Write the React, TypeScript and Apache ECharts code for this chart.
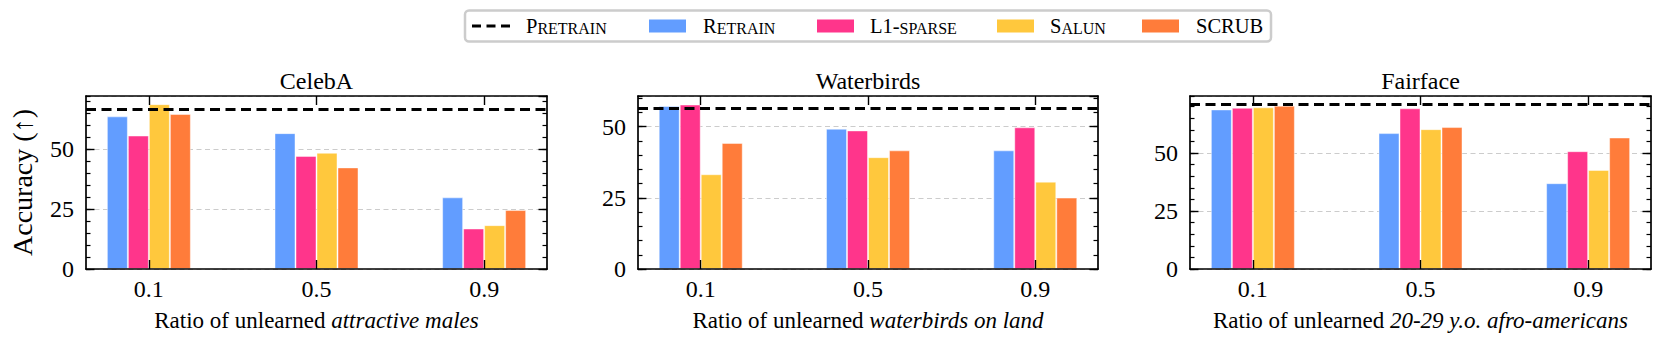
import React, { useEffect, useRef } from 'react';
import * as echarts from 'echarts';

const panelTitles = ['CelebA', 'Waterbirds', 'Fairface'];
const ratioLabels = ['0.1', '0.5', '0.9'];
const xNamePrefix = 'Ratio of unlearned ';
const xNameItalic = ['attractive males', 'waterbirds on land', '20-29 y.o. afro-americans'];
const methodNames = ['Retrain', 'L1-sparse', 'Salun', 'SCRUB'];
const methodColors = ['#629DFF', '#FF358B', '#FFC83D', '#FF7C3A'];

// values per panel: [ratio 0.1, 0.5, 0.9]
const retrain = [
  [63.7, 56.7, 29.9],
  [57.3, 49.3, 41.7],
  [68.8, 58.6, 37.0],
];
const l1sparse = [
  [55.7, 47.2, 16.9],
  [57.8, 48.7, 49.8],
  [69.5, 69.3, 50.8],
];
const salun = [
  [68.8, 48.5, 18.3],
  [33.3, 39.3, 30.7],
  [69.7, 60.3, 42.7],
];
const scrub = [
  [64.7, 42.4, 24.6],
  [44.3, 41.7, 25.1],
  [70.4, 61.2, 56.7],
];
const pretrain = [66.8, 56.5, 71.0];
const yMax = [72.2, 60.8, 74.6];
const yMajor = 25;
const yMinor = 5;

const FONT = 'Liberation Serif';

export default function App() {
  const ref = useRef<HTMLDivElement>(null);

  useEffect(() => {
    document.body.style.margin = '0';
    if (!ref.current) return;
    const chart = echarts.init(ref.current, null, { renderer: 'svg' });

    const lefts = [86, 638, 1190];
    const widths = [461, 460, 461];
    const top = 96;
    const height = 173;
    const nPts = 23;
    const labelIdx = [3, 11, 19];
    const catData = Array.from({ length: nPts }, (_, i) => 'c' + i);
    const allValues = [retrain, l1sparse, salun, scrub];

    const grid: any[] = [];
    const xAxis: any[] = [];
    const yAxis: any[] = [];
    const series: any[] = [];
    const title: any[] = [];

    const frame = { show: true, onZero: false, lineStyle: { color: '#000', width: 1.7 } };
    const noLine = { show: false, onZero: false };

    for (let p = 0; p < 3; p++) {
      grid.push({ left: lefts[p], width: widths[p], top, height, containLabel: false });
      title.push({
        text: panelTitles[p],
        left: lefts[p] + widths[p] / 2,
        top: 69,
        textAlign: 'center',
        padding: 0,
        textStyle: { fontFamily: FONT, fontSize: 24, fontWeight: 'normal', color: '#000' },
      });
      const xb = xAxis.length;
      // value axis for bars
      xAxis.push({ type: 'value', gridIndex: p, min: -0.375, max: 2.375, show: false, axisLine: noLine });
      // bottom category axis for ticks/labels
      xAxis.push({
        type: 'category', gridIndex: p, position: 'bottom', boundaryGap: false, data: catData, z: 10,
        axisLine: frame,
        axisTick: { show: true, inside: true, length: 9, interval: (i: number) => labelIdx.includes(i), lineStyle: { color: '#000', width: 1.4 } },
        axisLabel: {
          interval: 0, margin: 8, fontFamily: FONT, fontSize: 24, color: '#000',
          formatter: (_v: string, i: number) => { const k = labelIdx.indexOf(i); return k >= 0 ? ratioLabels[k] : ''; },
        },
        splitLine: { show: false },
        name: xNamePrefix + '{i|' + xNameItalic[p] + '}',
        nameLocation: 'middle',
        nameGap: 40,
        nameTextStyle: {
          fontFamily: FONT, fontSize: 23, color: '#000',
          rich: { i: { fontFamily: FONT, fontSize: 23, fontStyle: 'italic', color: '#000' } },
        },
      });
      // top category axis
      xAxis.push({
        type: 'category', gridIndex: p, position: 'top', boundaryGap: false, data: catData, z: 10,
        axisLine: frame,
        axisTick: { show: true, inside: true, length: 9, interval: (i: number) => labelIdx.includes(i), lineStyle: { color: '#000', width: 1.4 } },
        axisLabel: { show: false },
        splitLine: { show: false },
      });

      const yb = yAxis.length;
      const base = { type: 'value', gridIndex: p, min: 0, max: yMax[p] };
      // split lines (behind bars)
      yAxis.push({
        ...base, interval: yMajor, position: 'left', z: 0,
        axisLine: noLine, axisTick: { show: false }, axisLabel: { show: false },
        splitLine: { show: true, lineStyle: { color: '#cccccc', width: 1.2, type: [5, 3.5] } },
      });
      // left main axis
      yAxis.push({
        ...base, interval: yMajor, position: 'left', z: 10,
        axisLine: frame,
        axisTick: { show: true, inside: true, length: 8.5, lineStyle: { color: '#000', width: 1.4 } },
        axisLabel: { show: true, margin: 12, fontFamily: FONT, fontSize: 24, color: '#000', showMaxLabel: false, showMinLabel: true },
        splitLine: { show: false },
        name: p === 0 ? 'Accuracy (↑)' : '',
        nameLocation: 'middle',
        nameGap: 50,
        nameTextStyle: { fontFamily: FONT, fontSize: 28, color: '#000' },
      });
      // right main axis
      yAxis.push({
        ...base, interval: yMajor, position: 'right', z: 10,
        axisLine: frame,
        axisTick: { show: true, inside: true, length: 8.5, lineStyle: { color: '#000', width: 1.4 } },
        axisLabel: { show: false },
        splitLine: { show: false },
      });
      // minor tick axes
      for (const pos of ['left', 'right']) {
        yAxis.push({
          ...base, interval: yMinor, position: pos, z: 10,
          axisLine: noLine,
          axisTick: { show: true, inside: true, length: 4.5, lineStyle: { color: '#000', width: 1.2 } },
          axisLabel: { show: false },
          splitLine: { show: false },
        });
      }

      for (let m = 0; m < 4; m++) {
        const s: any = {
          type: 'bar',
          name: methodNames[m],
          xAxisIndex: xb,
          yAxisIndex: yb + 1,
          barWidth: 21,
          barGap: '0%',
          itemStyle: { color: methodColors[m], borderColor: 'rgba(255,255,255,0.45)', borderWidth: 1 },
          data: allValues[m][p].map((v, i) => [i, v]),
          z: 2,
        };
        if (m === 3) {
          s.markLine = {
            silent: true,
            symbol: ['none', 'none'],
            label: { show: false },
            lineStyle: { color: '#000', width: 3, type: [10, 5.5] },
            data: [{ yAxis: pretrain[p] }],
            z: 5,
          };
        }
        series.push(s);
      }
    }

    const ly = 26;
    const mk = (big: string, small: string) => {
      const parts: string[] = [];
      if (big) parts.push('{a|' + big + '}');
      if (small) parts.push('{b|' + small + '}');
      return parts.join('');
    };
    const rich = {
      a: { fontFamily: FONT, fontSize: 20.5, color: '#000', verticalAlign: 'bottom' },
      b: { fontFamily: FONT, fontSize: 16, color: '#000', verticalAlign: 'bottom' },
    };
    const legendTexts = [
      { x: 526, t: mk('P', 'RETRAIN') },
      { x: 703, t: mk('R', 'ETRAIN') },
      { x: 870, t: mk('L1-', 'SPARSE') },
      { x: 1050, t: mk('S', 'ALUN') },
      { x: 1196, t: mk('SCRUB', '') },
    ];
    const patchX = [649, 817, 997, 1142];

    const graphic: any[] = [
      {
        type: 'rect', z: 100,
        shape: { x: 465, y: 10.5, width: 806, height: 31, r: 4 },
        style: { fill: '#fff', stroke: '#cccccc', lineWidth: 2.5 },
      },
      {
        type: 'line', z: 101,
        shape: { x1: 472, y1: ly, x2: 510, y2: ly },
        style: { stroke: '#000', lineWidth: 3, lineDash: [9, 5.5] },
      },
      ...patchX.map((x, i) => ({
        type: 'rect', z: 101,
        shape: { x, y: ly - 6.5, width: 37, height: 13 },
        style: { fill: methodColors[i] },
      })),
      ...legendTexts.map((d) => ({
        type: 'text', z: 101, x: d.x, y: ly,
        style: { text: d.t, rich, verticalAlign: 'middle', align: 'left', fill: '#000' },
      })),
    ];

    chart.setOption({
      animation: false,
      backgroundColor: '#fff',
      title,
      grid,
      xAxis,
      yAxis,
      series,
      graphic,
    });

    return () => chart.dispose();
  }, []);

  return <div ref={ref} style={{ width: 1662, height: 342 }} />;
}
